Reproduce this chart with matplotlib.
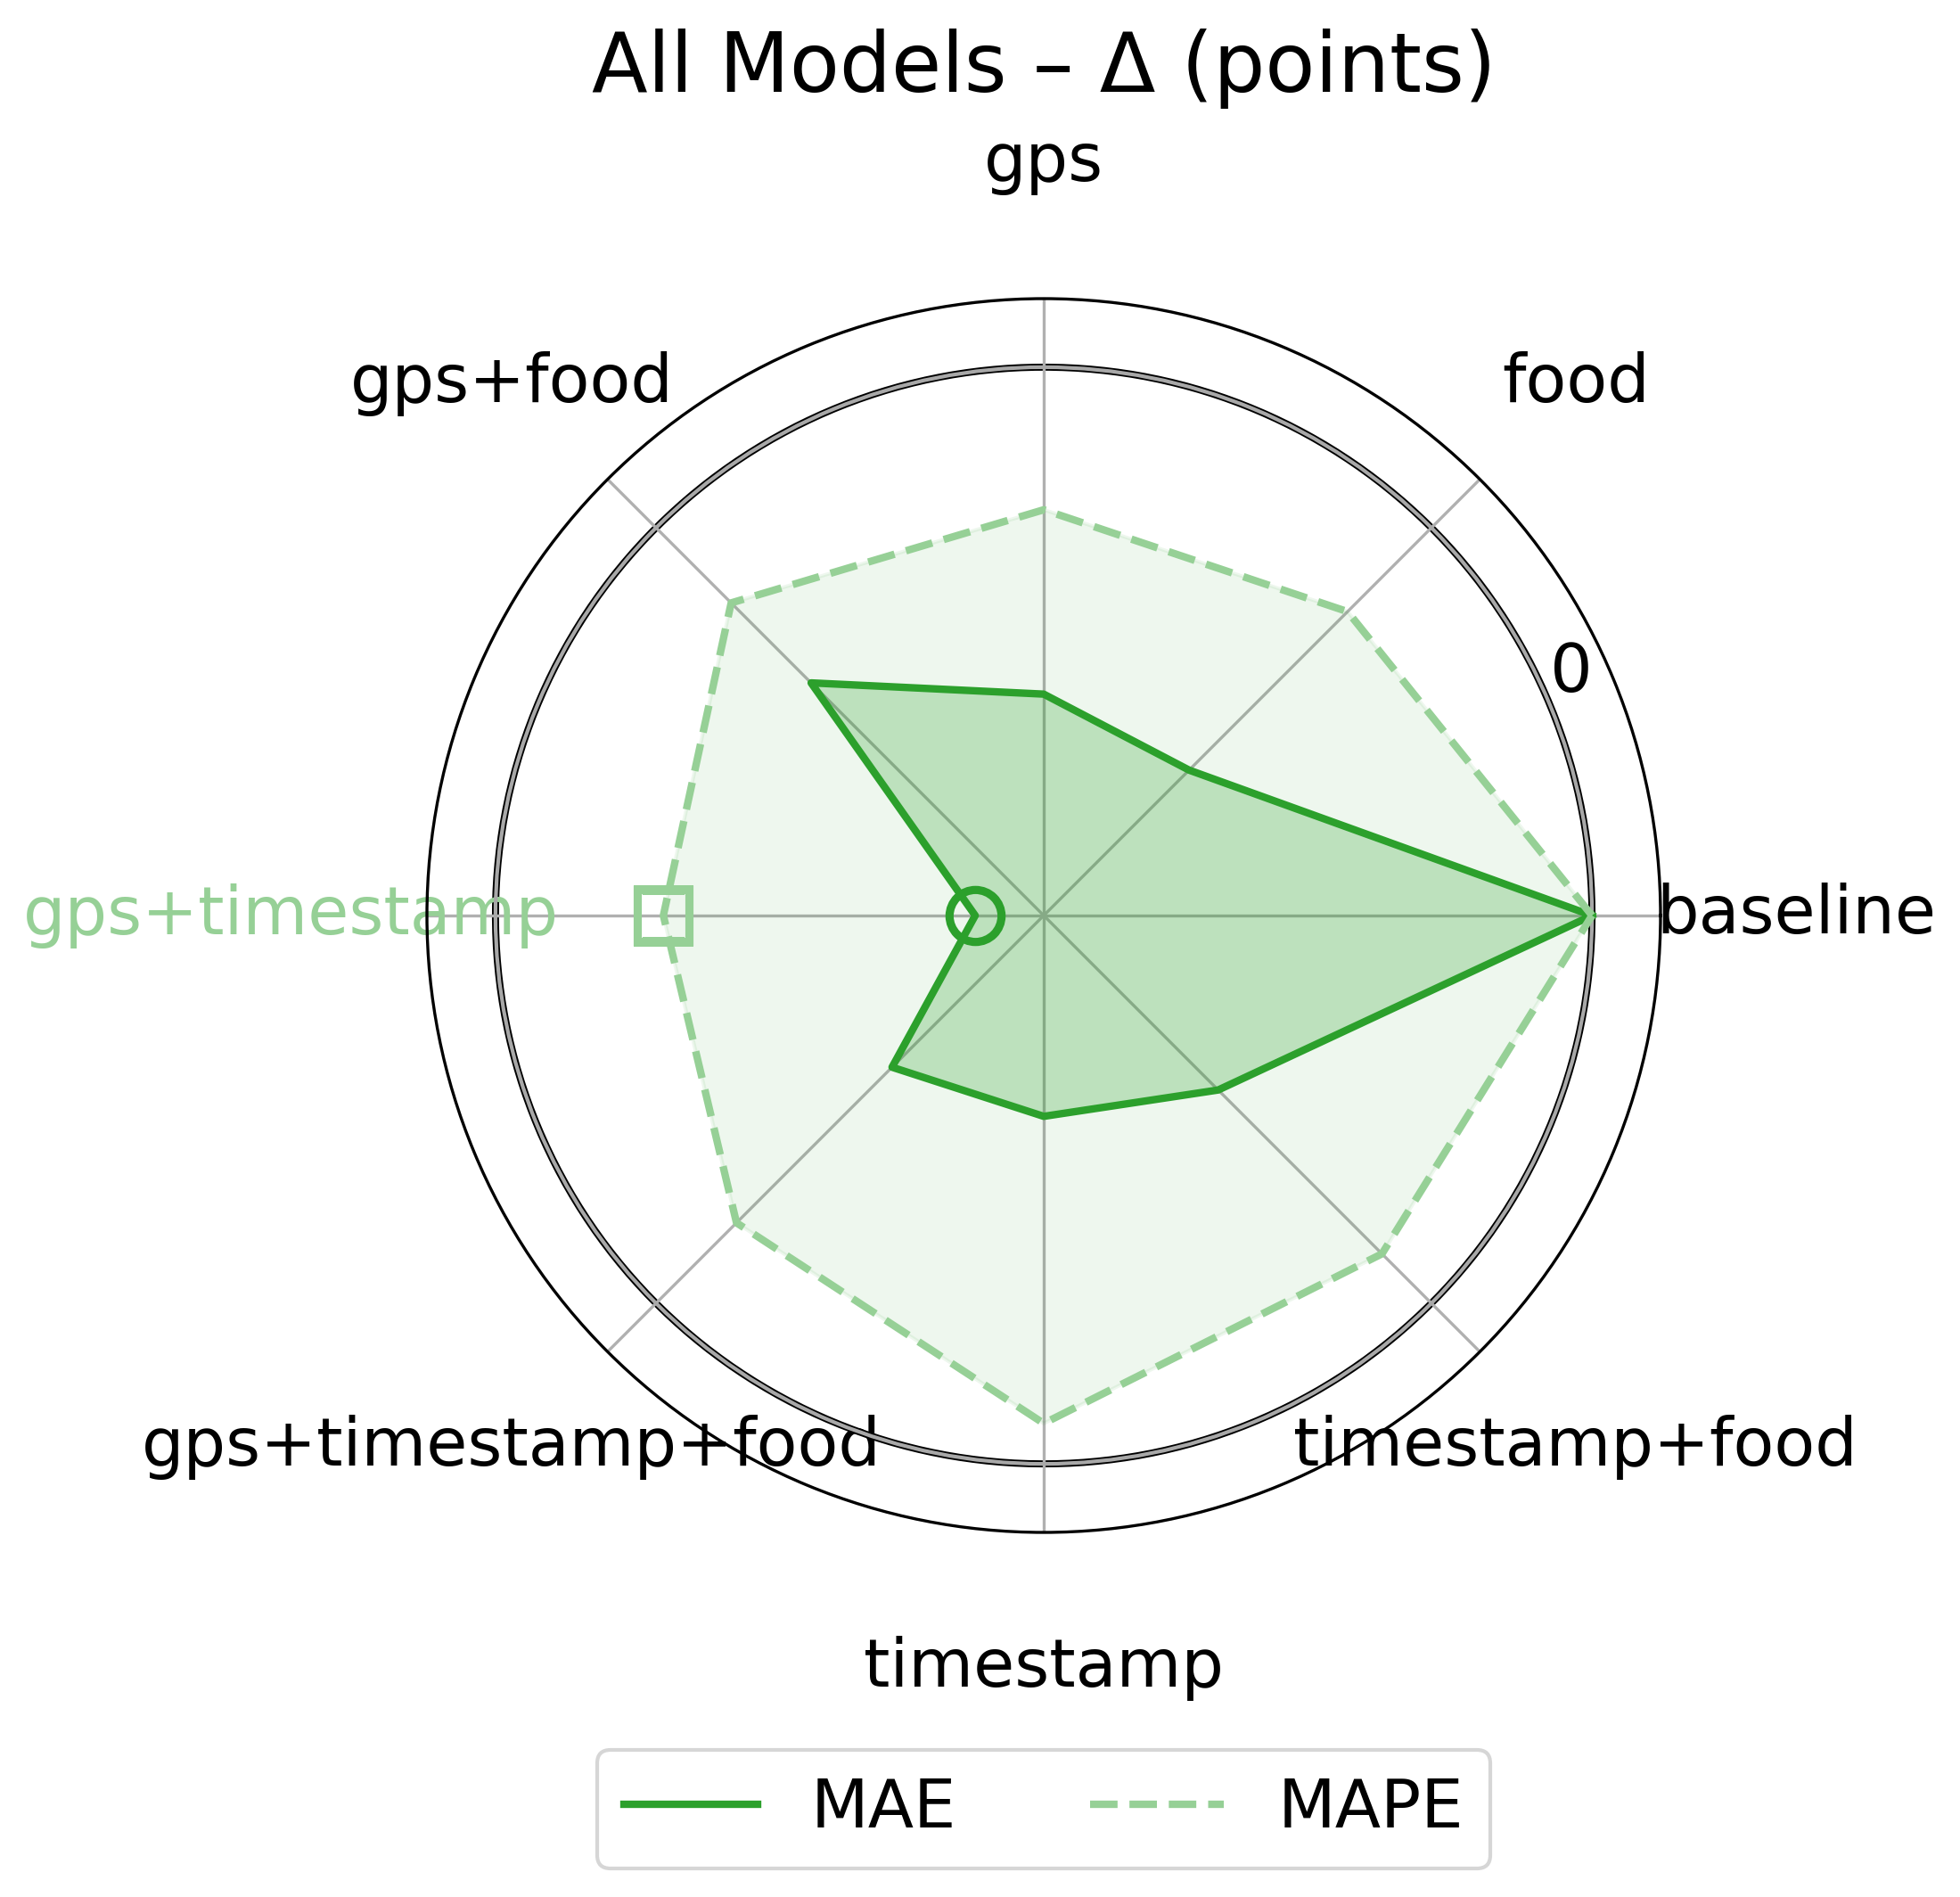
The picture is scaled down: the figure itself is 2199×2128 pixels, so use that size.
import numpy as np
import matplotlib
matplotlib.use("Agg")
import matplotlib.pyplot as plt

categories = ["baseline", "food", "gps", "gps+food", "gps+timestamp",
              "gps+timestamp+food", "timestamp", "timestamp+food"]
mae_delta = [0.0, -5.0, -4.77, -3.2, -7.0, -4.87, -5.07, -4.4]
mape_delta = [0.0, -1.73, -2.08, -1.55, -2.45, -1.66, -0.59, -1.02]
series_names = ["MAE", "MAPE"]
r_limits = (-8.0, 1.0)
r_ticks = [0]
r_tick_labels = ["0"]
title = "All Models \u2013 \u0394 (points)"

C_MAE = "#2ca02c"
C_MAPE = "#96d096"

W, H, DPI = 2199, 2128, 300
fig = plt.figure(figsize=(W / DPI, H / DPI), dpi=DPI)

cx, cy, R = 1171, 1027, 692
ax = fig.add_axes([(cx - R) / W, (H - cy - R) / H, 2 * R / W, 2 * R / H],
                  projection="polar")

n = len(categories)
angles = np.linspace(0, 2 * np.pi, n, endpoint=False)
ang_c = np.concatenate([angles, angles[:1]])

ax.set_ylim(*r_limits)
ax.set_yticks(r_ticks)
ax.set_yticklabels(r_tick_labels, fontsize=18)
ax.set_xticks(angles)
ax.set_xticklabels(categories, fontsize=18)
ax.tick_params(axis="x", pad=26)
ax.yaxis.grid(True, color="#a8a8a8", lw=1.0)
ax.xaxis.grid(True, color="#b0b0b0", lw=0.8)

# zero reference circle
tt = np.linspace(0, 2 * np.pi, 500)
ax.plot(tt, np.zeros_like(tt), color="black", lw=1.9, zorder=1)

mae_c = np.concatenate([mae_delta, mae_delta[:1]])
mape_c = np.concatenate([mape_delta, mape_delta[:1]])

ax.plot(ang_c, mae_c, color=C_MAE, lw=2, label=series_names[0], zorder=3)
ax.fill(ang_c, mae_c, color=C_MAE, alpha=0.25, zorder=2)
ax.plot(ang_c, mape_c, color=C_MAPE, lw=2, ls="--", label=series_names[1], zorder=3)
ax.fill(ang_c, mape_c, color=C_MAE, alpha=0.08, zorder=2)

# highlight best (most negative) values
i_mae = int(np.argmin(mae_delta))
i_mape = int(np.argmin(mape_delta))
ax.plot([angles[i_mae]], [mae_delta[i_mae]], marker="o", ms=14, mfc="none",
        mec=C_MAE, mew=2.2, ls="none", zorder=5)
ax.plot([angles[i_mape]], [mape_delta[i_mape]], marker="s", ms=14, mfc="none",
        mec=C_MAPE, mew=2.2, ls="none", zorder=5)

for lab in ax.get_xticklabels():
    if lab.get_text() == categories[i_mape]:
        lab.set_color(C_MAPE)

fig.text(cx / W, 1 - 103 / H, title, ha="center", va="baseline", fontsize=22)

ax.legend(loc="upper center", bbox_to_anchor=(cx / W, 1 - 1963 / H),
          bbox_transform=fig.transFigure, ncol=2, fontsize=18, borderaxespad=0)

fig.savefig("out.png", dpi=DPI)
